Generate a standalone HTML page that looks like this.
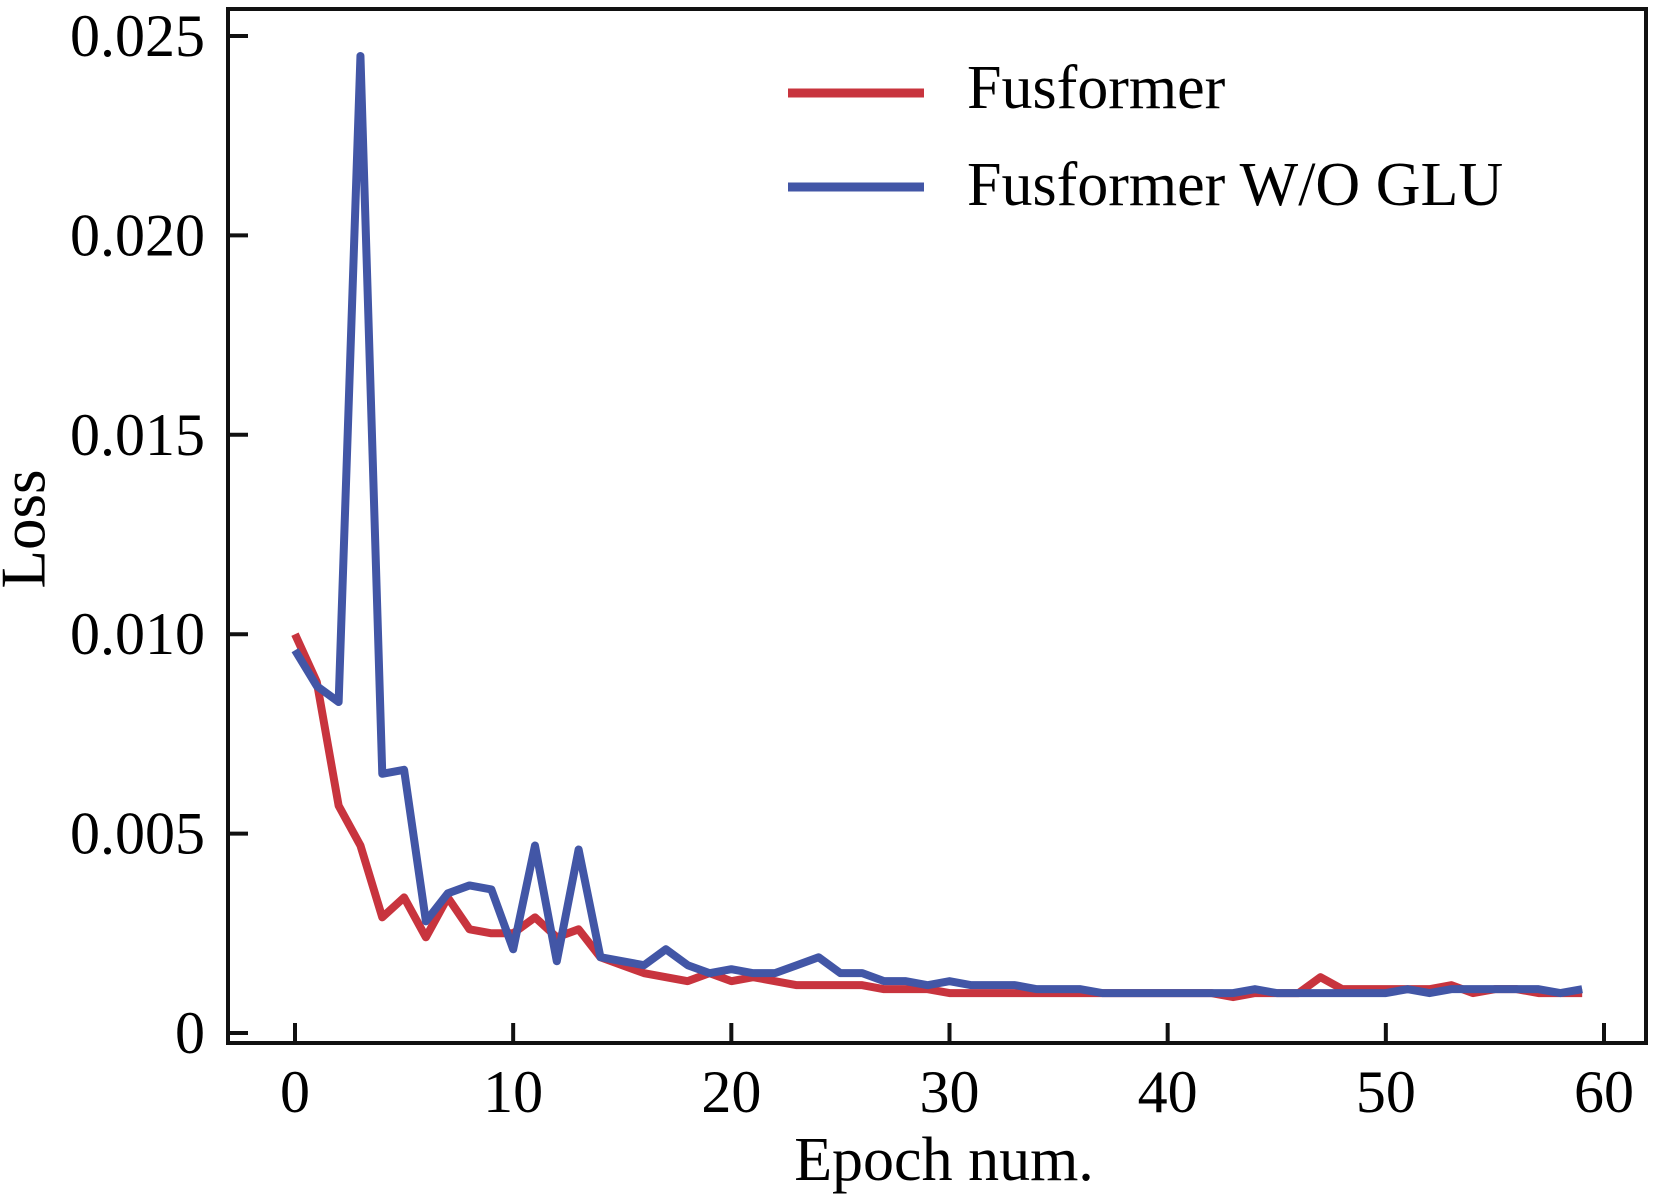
<!DOCTYPE html>
<html><head><meta charset="utf-8"><style>
html,body{margin:0;padding:0;background:#fff;}
svg{display:block;font-family:"Liberation Serif",serif;}
</style></head><body>
<svg id="chart" width="1667" height="1199" viewBox="0 0 1667 1199">
<rect x="228" y="9" width="1418" height="1034" fill="none" stroke="#111" stroke-width="4"/>
<g id="ticks"></g>
<g id="series"></g>
<text x="30" y="529" font-size="63" text-anchor="middle" transform="rotate(-90 30 529)" dominant-baseline="middle">Loss</text>
<text x="944" y="1180" font-size="62" text-anchor="middle">Epoch num.</text>
<g>
<line x1="788" y1="93" x2="924" y2="93" stroke="#c8343e" stroke-width="9"/>
<text x="967" y="108" font-size="62">Fusformer</text>
<line x1="788" y1="187" x2="924" y2="187" stroke="#4256a6" stroke-width="9"/>
<text x="967" y="205" font-size="62">Fusformer W/O GLU</text>
</g>
</svg>
<script>
const xTicks=[0,10,20,30,40,50,60];
const yTicks=[0,0.005,0.010,0.015,0.020,0.025];
const yTickLabels=["0","0.005","0.010","0.015","0.020","0.025"];
const fusformer=[0.0100,0.0088,0.0057,0.0047,0.0029,0.0034,0.0024,0.0034,0.0026,0.0025,0.0025,0.0029,0.0024,0.0026,0.0019,0.0017,0.0015,0.0014,0.0013,0.0015,0.0013,0.0014,0.0013,0.0012,0.0012,0.0012,0.0012,0.0011,0.0011,0.0011,0.0010,0.0010,0.0010,0.0010,0.0010,0.0010,0.0010,0.0010,0.0010,0.0010,0.0010,0.0010,0.0010,0.0009,0.0010,0.0010,0.0010,0.0014,0.0011,0.0011,0.0011,0.0011,0.0011,0.0012,0.0010,0.0011,0.0011,0.0010,0.0010,0.0010];
const noGlu=[0.0096,0.0087,0.0083,0.0245,0.0065,0.0066,0.0028,0.0035,0.0037,0.0036,0.0021,0.0047,0.0018,0.0046,0.0019,0.0018,0.0017,0.0021,0.0017,0.0015,0.0016,0.0015,0.0015,0.0017,0.0019,0.0015,0.0015,0.0013,0.0013,0.0012,0.0013,0.0012,0.0012,0.0012,0.0011,0.0011,0.0011,0.0010,0.0010,0.0010,0.0010,0.0010,0.0010,0.0010,0.0011,0.0010,0.0010,0.0010,0.0010,0.0010,0.0010,0.0011,0.0010,0.0011,0.0011,0.0011,0.0011,0.0011,0.0010,0.0011];
const NS='http://www.w3.org/2000/svg';
function xs(v){return 295+(v/60)*(1604-295);}
function ys(v){return 1033-(v/0.025)*(1033-36);}
const tg=document.getElementById('ticks');
xTicks.forEach(t=>{
  const l=document.createElementNS(NS,'line');
  l.setAttribute('x1',xs(t));l.setAttribute('x2',xs(t));l.setAttribute('y1',1043);l.setAttribute('y2',1023);
  l.setAttribute('stroke','#111');l.setAttribute('stroke-width','4');
  
  
  tg.appendChild(l);
  const tx=document.createElementNS(NS,'text');
  tx.setAttribute('x',xs(t));tx.setAttribute('y',1112);tx.setAttribute('font-size','60');tx.setAttribute('text-anchor','middle');
  tx.textContent=String(t);
  
  
  tg.appendChild(tx);
});
yTicks.forEach((t,i)=>{
  const l=document.createElementNS(NS,'line');
  l.setAttribute('x1',228);l.setAttribute('x2',248);l.setAttribute('y1',ys(t));l.setAttribute('y2',ys(t));
  l.setAttribute('stroke','#111');l.setAttribute('stroke-width','4');
  
  
  tg.appendChild(l);
  const tx=document.createElementNS(NS,'text');
  tx.setAttribute('x',205);tx.setAttribute('y',ys(t)+20);tx.setAttribute('font-size','60');tx.setAttribute('text-anchor','end');
  tx.textContent=yTickLabels[i];
  
  
  tg.appendChild(tx);
});
const sg=document.getElementById('series');
function addLine(vals,color,name){
  const p=document.createElementNS(NS,'polyline');
  p.setAttribute('points',vals.map((v,i)=>xs(i)+','+ys(v)).join(' '));
  p.setAttribute('fill','none');p.setAttribute('stroke',color);p.setAttribute('stroke-width','8');
  p.setAttribute('stroke-linejoin','round');
  
  
  sg.appendChild(p);
}
addLine(fusformer,'#c8343e','line-fusformer');
addLine(noGlu,'#4256a6','line-fusformer-no-glu');
</script>
</body></html>
